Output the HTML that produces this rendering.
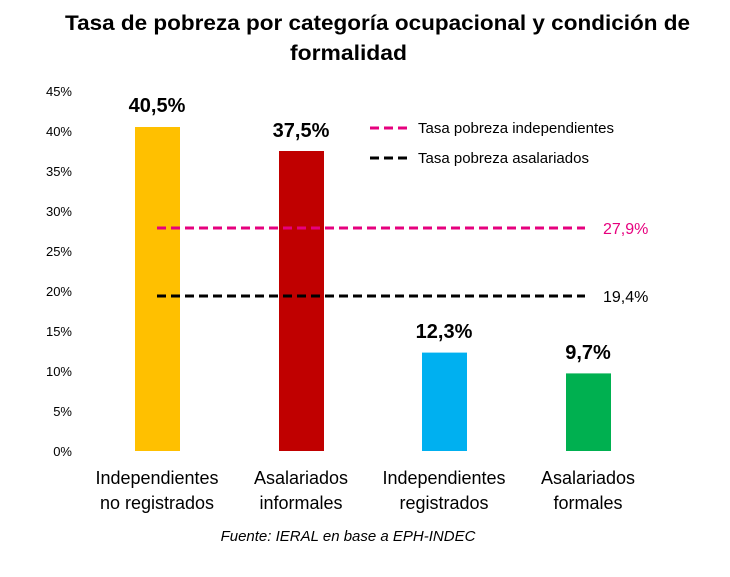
<!DOCTYPE html>
<html><head><meta charset="utf-8"><style>body{margin:0;background:#fff}</style></head><body>
<svg width="730" height="572" xmlns="http://www.w3.org/2000/svg" font-family="Liberation Sans, sans-serif">
<rect width="730" height="572" fill="#fff"/>
<text x="65" y="30" font-size="21" font-weight="bold" textLength="625" lengthAdjust="spacingAndGlyphs">Tasa de pobreza por categoría ocupacional y condición de</text>
<text x="290" y="60" font-size="21" font-weight="bold" textLength="117" lengthAdjust="spacingAndGlyphs">formalidad</text>
<g font-size="13" text-anchor="end" fill="#000">
<text x="72" y="456">0%</text><text x="72" y="416">5%</text><text x="72" y="376">10%</text><text x="72" y="336">15%</text><text x="72" y="296">20%</text><text x="72" y="256">25%</text><text x="72" y="216">30%</text><text x="72" y="176">35%</text><text x="72" y="136">40%</text><text x="72" y="96">45%</text>
</g>
<rect x="135" y="127" width="45" height="324" fill="#FFC000"/>
<rect x="279" y="151" width="45" height="300" fill="#C00000"/>
<rect x="422" y="352.6" width="45" height="98.4" fill="#00B0F0"/>
<rect x="566" y="373.4" width="45" height="77.6" fill="#00B050"/>
<line x1="157" y1="228" x2="585" y2="228" stroke="#E6007E" stroke-width="3" stroke-dasharray="9,5"/>
<line x1="157" y1="296" x2="585" y2="296" stroke="#000" stroke-width="3" stroke-dasharray="9,5"/>
<g font-size="20" font-weight="bold" text-anchor="middle">
<text x="157" y="112">40,5%</text><text x="301" y="137">37,5%</text><text x="444" y="338">12,3%</text><text x="588" y="359">9,7%</text>
</g>
<text x="603" y="234" font-size="16" fill="#E6007E">27,9%</text>
<text x="603" y="302" font-size="16">19,4%</text>
<line x1="370" y1="128" x2="410" y2="128" stroke="#E6007E" stroke-width="3" stroke-dasharray="9,5"/>
<text x="418" y="133" font-size="15">Tasa pobreza independientes</text>
<line x1="370" y1="158" x2="410" y2="158" stroke="#000" stroke-width="3" stroke-dasharray="9,5"/>
<text x="418" y="163" font-size="15">Tasa pobreza asalariados</text>
<g font-size="18" text-anchor="middle">
<text x="157" y="484">Independientes</text><text x="157" y="509">no registrados</text>
<text x="301" y="484">Asalariados</text><text x="301" y="509">informales</text>
<text x="444" y="484">Independientes</text><text x="444" y="509">registrados</text>
<text x="588" y="484">Asalariados</text><text x="588" y="509">formales</text>
</g>
<text x="348" y="541" font-size="15" font-style="italic" text-anchor="middle">Fuente: IERAL en base a EPH-INDEC</text>
</svg>
</body></html>
